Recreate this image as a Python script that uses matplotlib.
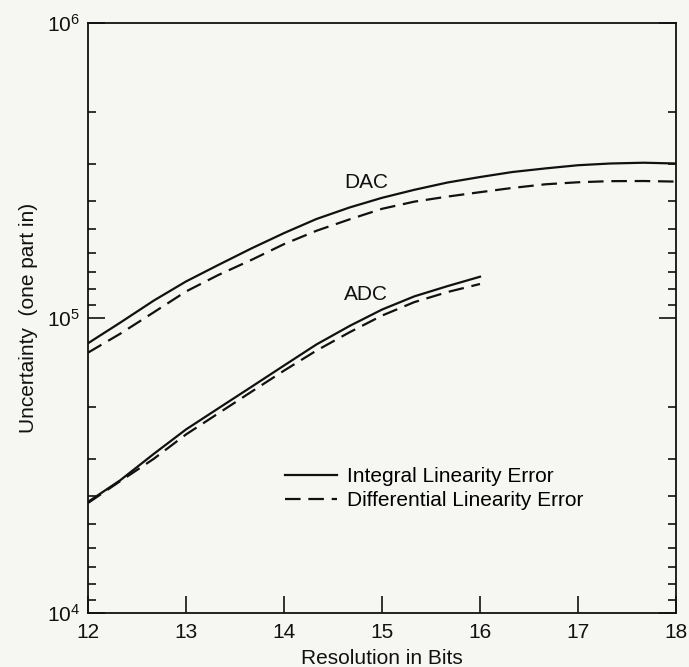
import matplotlib
matplotlib.use("Agg")
import matplotlib.pyplot as plt
from matplotlib.lines import Line2D

# Werte
bits_dac = [12.0, 12.33, 12.67, 13.0, 13.33, 13.67, 14.0, 14.33, 14.67, 15.0,
            15.33, 15.67, 16.0, 16.33, 16.67, 17.0, 17.33, 17.67, 18.0]
dac_integral = [82100, 96500, 114500, 133000, 151300, 172300, 194000, 216500, 237000, 255500,
                272000, 288000, 300500, 312500, 321500, 329500, 334000, 336000, 334000]
dac_differential = [76300, 88500, 104500, 123000, 139900, 157500, 178000, 197500, 216000, 234500,
                    248000, 258000, 267000, 276000, 284000, 288500, 291000, 291300, 290000]

bits_adc = [12.0, 12.33, 12.67, 13.0, 13.33, 13.67, 14.0, 14.33, 14.67, 15.0, 15.33, 15.67, 16.0]
adc_integral = [23800, 28200, 34600, 41900, 49400, 58500, 69000, 81300, 94000, 106800, 118400, 128300, 138000]
adc_differential = [23600, 28000, 33300, 40300, 47500, 56300, 66300, 77500, 89500, 101900, 113200, 122500, 130400]

x_ticks = [12, 13, 14, 15, 16, 17, 18]
legend_labels = ["Integral Linearity Error", "Differential Linearity Error"]

plt.rcParams["font.family"] = ["Liberation Sans", "DejaVu Sans"]
plt.rcParams["mathtext.fontset"] = "custom"
plt.rcParams["mathtext.rm"] = "Liberation Sans"
plt.rcParams["mathtext.it"] = "Liberation Sans"

bg = "#f6f6f2"
ink = "#111111"
fs = 15

fig = plt.figure(figsize=(6.89, 6.67), dpi=100, facecolor=bg)
ax = fig.add_axes([88 / 689, 54 / 667, 588 / 689, 590 / 667], facecolor=bg)

dash = (0, (7, 3.5))
ax.plot(bits_dac, dac_integral, color=ink, lw=1.6)
ax.plot(bits_dac, dac_differential, color=ink, lw=1.6, linestyle=dash)
ax.plot(bits_adc, adc_integral, color=ink, lw=1.6)
ax.plot(bits_adc, adc_differential, color=ink, lw=1.6, linestyle=dash)

ax.set_yscale("log")
ax.set_xlim(12, 18)
ax.set_ylim(1e4, 1e6)

ax.text(14.84, 287000, "DAC", fontsize=fs, ha="center", va="center", color=ink)
ax.text(14.84, 120600, "ADC", fontsize=fs, ha="center", va="center", color=ink)

# Achsen und Ticks wie im Original (Nebenticks gespiegelt)
ax.set_xticks(x_ticks)
ax.set_xticklabels([str(t) for t in x_ticks])
ax.set_yticks([1e4, 1e5, 1e6])
ax.set_yticklabels([r"$10^4$", r"$10^5$", r"$10^6$"])
minor = [10 ** (d + 1) / k for d in (4, 5) for k in range(2, 10)]
ax.set_yticks(minor, minor=True)
ax.set_yticklabels([], minor=True)
ax.tick_params(axis="x", which="major", direction="in", length=12, width=1.2,
               top=False, labelsize=fs, pad=7, colors=ink)
ax.tick_params(axis="y", which="major", direction="in", length=12, width=1.2,
               right=True, labelsize=fs, pad=6, colors=ink)
ax.tick_params(axis="y", which="minor", direction="in", length=6, width=1.2,
               right=True, colors=ink)
for s in ax.spines.values():
    s.set_linewidth(1.3)
    s.set_color(ink)

ax.set_xlabel("Resolution in Bits", fontsize=fs, color=ink, labelpad=5)
ax.set_ylabel("Uncertainty  (one part in)", fontsize=fs, color=ink, labelpad=6)

handles = [Line2D([], [], color=ink, lw=1.6),
           Line2D([], [], color=ink, lw=1.6, linestyle=dash)]
ax.legend(handles, legend_labels, loc="upper left", bbox_to_anchor=(0.335, 0.247),
          frameon=False, fontsize=fs, handlelength=2.5, handletextpad=0.5,
          borderpad=0, borderaxespad=0, labelspacing=0.25)

fig.savefig("out.png", dpi=100, facecolor=bg)
